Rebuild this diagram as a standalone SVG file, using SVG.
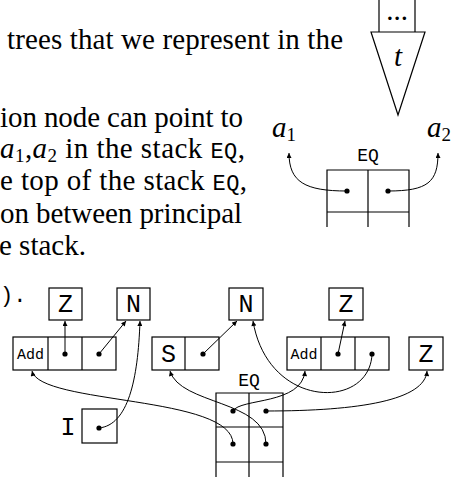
<svg xmlns="http://www.w3.org/2000/svg" width="454" height="480" viewBox="0 0 454 480">
<defs>
<marker id="ah" viewBox="0 0 10 10" refX="10" refY="5" markerWidth="6" markerHeight="5" markerUnits="userSpaceOnUse" orient="auto"><path d="M0,0 L10,5 L0,10 Z" fill="#000"/></marker>
<style>
.serif{font-family:"Liberation Serif","Times New Roman",serif;font-size:29px;fill:#000}
.it{font-style:italic}
.tt{font-family:"Liberation Mono","Courier New",monospace;fill:#000}
.lbl{font-size:25px;text-anchor:middle}
.sm{font-size:15px;text-anchor:middle}
.eq{font-size:18px;text-anchor:middle}
.box{fill:none;stroke:#000;stroke-width:1.2}
.con{fill:none;stroke:#000;stroke-width:1;marker-end:url(#ah)}
.dot{fill:#000}
</style>
</defs>
<rect width="454" height="480" fill="#fff"/>
<g id="text">
<text class="serif" x="7" y="49" textLength="336" lengthAdjust="spacing">trees that we represent in the</text>
<text class="serif" x="0" y="127" textLength="243" lengthAdjust="spacing">ion node can point to</text>
<text class="serif" x="0" y="158" textLength="245" lengthAdjust="spacing"><tspan class="it">a</tspan><tspan font-size="19" dy="4">1</tspan><tspan dy="-4">,</tspan><tspan class="it">a</tspan><tspan font-size="19" dy="4">2</tspan><tspan dy="-4"> in the stack </tspan><tspan class="tt" font-size="22">EQ</tspan>,</text>
<text class="serif" x="0" y="190" textLength="247" lengthAdjust="spacing">e top of the stack <tspan class="tt" font-size="22">EQ</tspan>,</text>
<text class="serif" x="0" y="223" textLength="242" lengthAdjust="spacing">on between principal</text>
<text class="serif" x="-1" y="255">e stack.</text>
<text class="tt" x="0" y="302" font-size="22">).</text>
</g>
<g id="tree">
<path class="box" d="M379,0 V32 M415,0 V32"/>
<path class="box" d="M371,32 H425 L398,115 Z"/>
<text class="serif" x="397" y="20" font-size="15" text-anchor="middle">...</text>
<text class="serif it" x="398" y="66" text-anchor="middle">t</text>
</g>
<g id="a1"><text class="serif it" x="272" y="137">a<tspan font-size="19" font-style="normal" dy="4">1</tspan></text></g>
<g id="a2"><text class="serif it" x="427" y="137">a<tspan font-size="19" font-style="normal" dy="4">2</tspan></text></g>
<g id="eq-top">
<text class="tt eq" x="368" y="161">EQ</text>
<path class="box" d="M327,227 V170 H409 V227 M368,170 V227 M327,212 H409"/>
<circle class="dot" cx="347" cy="191" r="2.6"/>
<circle class="dot" cx="388" cy="191" r="2.6"/>
</g>
<g id="z1"><rect class="box" x="49" y="288" width="33" height="32"/><text class="tt lbl" x="65.5" y="312">Z</text></g>
<g id="n1"><rect class="box" x="117" y="288" width="33" height="32"/><text class="tt lbl" x="133.5" y="312">N</text></g>
<g id="n2"><rect class="box" x="229" y="288" width="34" height="32"/><text class="tt lbl" x="246" y="312">N</text></g>
<g id="z2"><rect class="box" x="329" y="288" width="34" height="32"/><text class="tt lbl" x="346" y="312">Z</text></g>
<g id="add1"><rect class="box" x="13" y="337" width="103" height="33"/><path class="box" d="M48,337 V370 M82,337 V370"/><text class="tt sm" x="30.5" y="359">Add</text><circle class="dot" cx="65" cy="354" r="2.6"/><circle class="dot" cx="99" cy="354" r="2.6"/></g>
<g id="s"><rect class="box" x="152" y="337" width="67" height="33"/><path class="box" d="M185,337 V370"/><text class="tt lbl" x="168.5" y="362">S</text><circle class="dot" cx="203" cy="354" r="2.6"/></g>
<g id="add2"><rect class="box" x="287" y="337" width="102" height="33"/><path class="box" d="M321,337 V370 M355,337 V370"/><text class="tt sm" x="304" y="359">Add</text><circle class="dot" cx="338" cy="354" r="2.6"/><circle class="dot" cx="372" cy="354" r="2.6"/></g>
<g id="z3"><rect class="box" x="409" y="337" width="34" height="33"/><text class="tt lbl" x="426" y="362">Z</text></g>
<g id="i"><text class="tt lbl" x="68" y="435">I</text><rect class="box" x="82" y="409" width="35" height="34"/><circle class="dot" cx="99" cy="428" r="2.6"/></g>
<g id="eq-bottom">
<text class="tt eq" x="249" y="386">EQ</text>
<path class="box" d="M216,477 V393 H283 V477 M249,393 V477 M216,427 H283 M216,462 H283"/>
<circle class="dot" cx="233" cy="411" r="2.6"/><circle class="dot" cx="266" cy="411" r="2.6"/>
<circle class="dot" cx="233" cy="444" r="2.6"/><circle class="dot" cx="266" cy="444" r="2.6"/>
</g>
<g id="connectors">
<path class="con" d="M347,191 C305,191 289,182 289,153"/>
<path class="con" d="M388,191 C428,191 438,182 438,153"/>
<path class="con" d="M65,354 V321"/>
<path class="con" d="M99,354 L126,321"/>
<path class="con" d="M203,354 L237,321"/>
<path class="con" d="M338,354 L345,321"/>
<path class="con" d="M99,428 C128,425 138,380 140,321"/>
<path class="con" d="M372,354 C370,410 268,410 253,321"/>
<path class="con" d="M233,411 C240,398 302,405 305,371"/>
<path class="con" d="M266,411 C360,411 425,400 427,371"/>
<path class="con" d="M233,444 C233,395 40,405 32,371"/>
<path class="con" d="M266,444 C266,400 180,405 170,371"/>
</g>
</svg>
